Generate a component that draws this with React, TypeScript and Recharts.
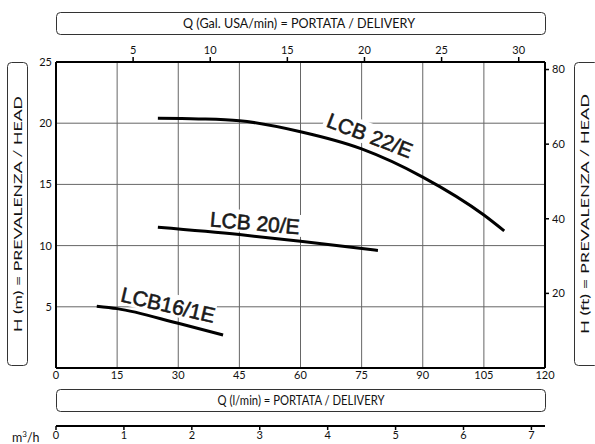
import {
  CartesianGrid,
  Line,
  LineChart,
  ReferenceDot,
  XAxis,
  YAxis,
} from "recharts";

// flow in l/min, head in m
const lcb22Q = [25, 35, 45, 60, 75, 90, 105, 110];
const lcb22H = [20.4, 20.35, 20.2, 19.3, 17.9, 15.6, 12.5, 11.2];
const lcb20Q = [25, 45, 60, 79];
const lcb20H = [11.5, 10.9, 10.35, 9.6];
const lcb16Q = [10, 15, 30, 41];
const lcb16H = [5.05, 4.85, 3.65, 2.7];

const lminTicks = [0, 15, 30, 45, 60, 75, 90, 105, 120];
const galTicks = [5, 10, 15, 20, 25, 30];
const m3hTicks = [0, 1, 2, 3, 4, 5, 6, 7];
const mTicks = [5, 10, 15, 20, 25];
const ftTicks = [20, 40, 60, 80];

const curveLabels = [
  { name: "LCB 22/E", q: 77, h: 19.0, angle: 21 },
  { name: "LCB 20/E", q: 48.8, h: 11.85, angle: 5 },
  { name: "LCB16/1E", q: 27.5, h: 5.15, angle: 13 },
];

const toRows = (q: number[], h: number[]) => q.map((v, i) => ({ q: v, h: h[i] }));
const lcb22 = toRows(lcb22Q, lcb22H);
const lcb20 = toRows(lcb20Q, lcb20H);
const lcb16 = toRows(lcb16Q, lcb16H);

const GAL = 3.785;
const FT = 3.2808;
const tickFont = { fontFamily: "Lato, 'DejaVu Sans', sans-serif", fontSize: 11, fill: "#111" };
const boxFont = "Lato, 'DejaVu Sans', sans-serif";

export default function App() {
  return (
    <div style={{ position: "absolute", left: 0, top: 0, width: 595, height: 444, background: "#fff" }}>
      <LineChart
        width={595}
        height={444}
        margin={{ top: 40, right: 20, bottom: 0, left: 26 }}
      >
        <CartesianGrid
          xAxisId="l"
          yAxisId="m"
          stroke="#666"
          strokeWidth={1}
        />
        <XAxis
          xAxisId="l"
          dataKey="q"
          type="number"
          domain={[0, 120]}
          ticks={lminTicks}
          allowDataOverflow
          orientation="bottom"
          height={58}
          tickLine={false}
          tickSize={3}
          tickMargin={0}
          axisLine={{ stroke: "#000", strokeWidth: 2 }}
          tick={tickFont}
          interval={0}
        />
        <XAxis
          xAxisId="m3"
          dataKey="q"
          type="number"
          domain={[0, 7.2]}
          ticks={m3hTicks}
          allowDataOverflow
          orientation="bottom"
          height={18}
          tickSize={4}
          tickMargin={1}
          tickLine={{ stroke: "#000", strokeWidth: 1.5 }}
          axisLine={{ stroke: "#000", strokeWidth: 2 }}
          tick={tickFont}
          interval={0}
        />
        <XAxis
          xAxisId="gal"
          dataKey="q"
          type="number"
          domain={[0, 120 / GAL]}
          ticks={galTicks}
          allowDataOverflow
          orientation="top"
          height={22}
          tickSize={5}
          tickMargin={3}
          tickLine={{ stroke: "#000", strokeWidth: 1.5 }}
          axisLine={{ stroke: "#000", strokeWidth: 2 }}
          tick={tickFont}
          interval={0}
        />
        <YAxis
          yAxisId="m"
          type="number"
          domain={[0, 25]}
          ticks={mTicks}
          allowDataOverflow
          orientation="left"
          width={30}
          tickLine={false}
          tickSize={2}
          tickMargin={2}
          axisLine={{ stroke: "#000", strokeWidth: 2 }}
          tick={tickFont}
          interval={0}
        />
        <YAxis
          yAxisId="ft"
          type="number"
          domain={[0, 25 * FT]}
          ticks={ftTicks}
          allowDataOverflow
          orientation="right"
          width={30}
          tickSize={4}
          tickMargin={3}
          tickLine={{ stroke: "#000", strokeWidth: 1.5 }}
          axisLine={{ stroke: "#000", strokeWidth: 2 }}
          tick={tickFont}
          interval={0}
        />
        <Line data={lcb22} xAxisId="l" yAxisId="m" dataKey="h" type="monotone" stroke="#000" strokeWidth={3} dot={false} isAnimationActive={false} />
        <Line data={lcb20} xAxisId="l" yAxisId="m" dataKey="h" type="monotone" stroke="#000" strokeWidth={3} dot={false} isAnimationActive={false} />
        <Line data={lcb16} xAxisId="l" yAxisId="m" dataKey="h" type="monotone" stroke="#000" strokeWidth={3} dot={false} isAnimationActive={false} />
        {curveLabels.map((c) => (
          <ReferenceDot
            key={c.name}
            xAxisId="l"
            yAxisId="m"
            x={c.q}
            y={c.h}
            r={0}
            shape={(p: any) => (
              <g transform={`translate(${p.cx},${p.cy}) rotate(${c.angle})`}>
                <rect x={-48} y={-12} width={96} height={22} fill="#fff" />
                <text
                  x={0}
                  y={0}
                  dy="0.35em"
                  textAnchor="middle"
                  fontFamily="'Liberation Sans', Arial, sans-serif"
                  fontSize={21}
                  fill="#1a1a1a"
                  stroke="#1a1a1a"
                  strokeWidth={0.6}
                >
                  {c.name}
                </text>
              </g>
            )}
          />
        ))}
      </LineChart>
      <svg
        width={595}
        height={444}
        style={{ position: "absolute", left: 0, top: 0, pointerEvents: "none" }}
      >
        <rect x={56.5} y={12.5} width={489} height={22} rx={4} fill="none" stroke="#333" strokeWidth={1} />
        <text x={299} y={24} dy="0.35em" textAnchor="middle" fontFamily={boxFont} fontSize={12.5} fill="#111" textLength={232} lengthAdjust="spacingAndGlyphs">
          Q (Gal. USA/min) = PORTATA / DELIVERY
        </text>
        <rect x={56.5} y={389.5} width={489} height={22} rx={4} fill="none" stroke="#333" strokeWidth={1} />
        <text x={301} y={401} dy="0.35em" textAnchor="middle" fontFamily={boxFont} fontSize={12.5} fill="#111" textLength={167} lengthAdjust="spacingAndGlyphs">
          Q (l/min) = PORTATA / DELIVERY
        </text>
        <rect x={7.5} y={62.5} width={20} height={303} rx={4} fill="none" stroke="#333" strokeWidth={1} />
        <text
          transform="translate(18,214) rotate(-90)"
          dy="0.35em"
          textAnchor="middle"
          fontFamily={boxFont}
          fontSize={12}
          fill="#111"
          textLength={236}
          lengthAdjust="spacingAndGlyphs"
        >
          H (m) = PREVALENZA / HEAD
        </text>
        <rect x={574.5} y={62.5} width={24} height={303} rx={4} fill="none" stroke="#333" strokeWidth={1} />
        <text
          transform="translate(585,214) rotate(-90)"
          dy="0.35em"
          textAnchor="middle"
          fontFamily={boxFont}
          fontSize={12}
          fill="#111"
          textLength={240}
          lengthAdjust="spacingAndGlyphs"
        >
          H (ft) = PREVALENZA / HEAD
        </text>
        <text x={12} y={442} fontFamily={boxFont} fontSize={12.5} fill="#111">
          m<tspan dy={-5} fontSize={8}>3</tspan>
          <tspan dy={5}>/h</tspan>
        </text>
      </svg>
    </div>
  );
}
